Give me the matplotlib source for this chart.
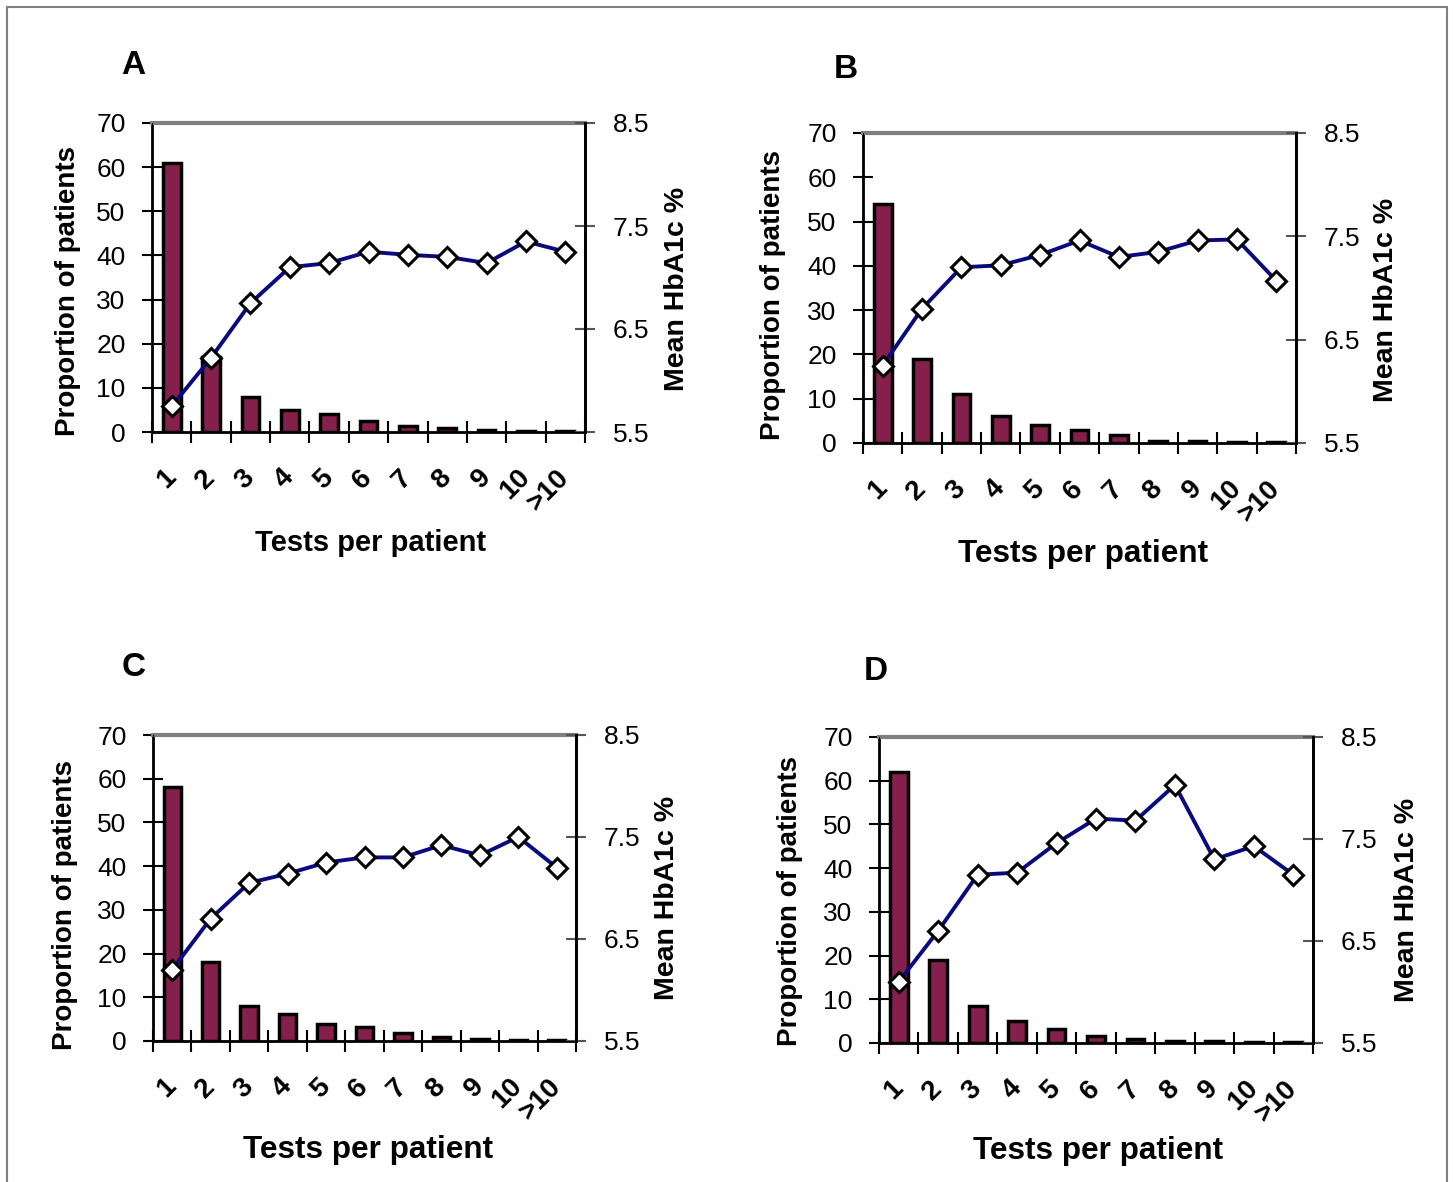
import matplotlib
matplotlib.use("Agg")
import matplotlib.pyplot as plt
from matplotlib.patches import Rectangle
import numpy as np

plt.rcParams['font.family'] = ['Liberation Sans', 'DejaVu Sans']

W, H = 1453, 1182

categories = ['1', '2', '3', '4', '5', '6', '7', '8', '9', '10', '>10']

# proportion of patients (%) per number of tests
bars_a = [61, 17, 8, 5, 4, 2.6, 1.4, 1.0, 0.5, 0.3, 0.3]
bars_b = [54, 19, 11, 6, 4, 2.9, 1.9, 0.5, 0.5, 0.3, 0.3]
bars_c = [58, 18, 8.1, 6.1, 4, 3.1, 1.8, 1.0, 0.5, 0.3, 0.3]
bars_d = [62, 19, 8.5, 5, 3.1, 1.6, 0.9, 0.4, 0.4, 0.2, 0.2]

# mean HbA1c %
hba1c_a = [5.75, 6.22, 6.75, 7.10, 7.14, 7.25, 7.22, 7.20, 7.14, 7.35, 7.25]
hba1c_b = [6.25, 6.80, 7.20, 7.22, 7.32, 7.46, 7.30, 7.35, 7.46, 7.47, 7.07]
hba1c_c = [6.20, 6.70, 7.05, 7.14, 7.25, 7.30, 7.30, 7.42, 7.32, 7.50, 7.20]
hba1c_d = [6.10, 6.60, 7.15, 7.17, 7.46, 7.70, 7.68, 8.03, 7.30, 7.43, 7.15]

BAR_COLOR = '#85204c'
LINE_COLOR = '#0a0a80'

# pixel layout: (axes box, letter pos, left ylabel, right ylabel, xlabel, xlabel size)
panels = [
    ('A', bars_a, hba1c_a, (152, 123, 585, 432), (133, 66), (68, 291), (677, 289), (371, 543), 21),
    ('B', bars_b, hba1c_b, (863, 133, 1296, 443), (846, 69), (773, 295), (1386, 300), (1083, 554), 22.7),
    ('C', bars_c, hba1c_c, (153, 735, 576, 1041), (134, 668), (65, 905), (667, 898), (368, 1150), 22.7),
    ('D', bars_d, hba1c_d, (879, 737, 1313, 1043), (876, 672), (790, 901), (1407, 900), (1098, 1151), 22.7),
]

fig = plt.figure(figsize=(W / 100, H / 100), dpi=100)


def fx(x):
    return x / W


def fy(y):
    return 1 - y / H


for letter, bars, line, box, lpos, ylpos, yrpos, xlpos, xlsize in panels:
    x0, y0, x1, y1 = box
    ax = fig.add_axes([fx(x0), fy(y1), (x1 - x0) / W, (y1 - y0) / H])
    x = np.arange(1, len(categories) + 1)
    ax.bar(x, bars, width=0.45, color=BAR_COLOR, edgecolor='black', linewidth=2.5, zorder=2)
    ax.set_xlim(0.5, len(categories) + 0.5)
    ax.set_ylim(0, 70)
    ax.set_yticks(range(0, 71, 10))
    ax.tick_params(axis='y', direction='inout', length=14, width=1.5, labelsize=19, pad=12)
    ax.set_xticks(np.arange(0.5, len(categories) + 1, 1))
    ax.set_xticklabels([])
    ax.set_xticks(x, minor=True)
    ax.set_xticklabels(categories, minor=True, rotation=45, ha='right', va='center',
                       rotation_mode='anchor', fontsize=20, fontweight='bold')
    ax.tick_params(axis='x', which='major', direction='inout', length=16, width=1.5)
    ax.tick_params(axis='x', which='minor', length=0, pad=30)
    for s in ['left', 'right', 'bottom']:
        ax.spines[s].set_linewidth(2)
    ax.spines['top'].set_color('#7f7f7f')
    ax.spines['top'].set_linewidth(3)

    ax2 = ax.twinx()
    ax2.plot(x, line, color=LINE_COLOR, linewidth=2.8, marker='D', markersize=10,
             markerfacecolor='white', markeredgecolor='black', markeredgewidth=2.2, zorder=3)
    ax2.set_ylim(5.5, 8.5)
    ax2.set_yticks([5.5, 6.5, 7.5, 8.5])
    ax2.set_yticklabels(['5.5', '6.5', '7.5', '8.5'])
    ax2.tick_params(axis='y', direction='inout', length=14, width=1.5, labelsize=19, pad=13,
                    color='#555555')
    ax2.spines['right'].set_linewidth(2)
    ax2.spines['top'].set_visible(False)

    fig.text(fx(lpos[0]), fy(lpos[1]), letter, fontsize=24, fontweight='bold',
             ha='center', va='center')
    fig.text(fx(ylpos[0]), fy(ylpos[1]), 'Proportion of patients', fontsize=20,
             fontweight='bold', rotation=90, ha='center', va='center')
    fig.text(fx(yrpos[0]), fy(yrpos[1]), 'Mean HbA1c %', fontsize=20.5,
             fontweight='bold', rotation=90, ha='center', va='center')
    fig.text(fx(xlpos[0]), fy(xlpos[1]), 'Tests per patient', fontsize=xlsize,
             fontweight='bold', ha='center', va='center')

# outer frame
fig.patches.append(Rectangle((fx(7), fy(1190)), fx(1447) - fx(7), fy(7) - fy(1190),
                             transform=fig.transFigure, fill=False,
                             edgecolor='#808080', linewidth=1.5))

fig.savefig('out.png', dpi=100)
